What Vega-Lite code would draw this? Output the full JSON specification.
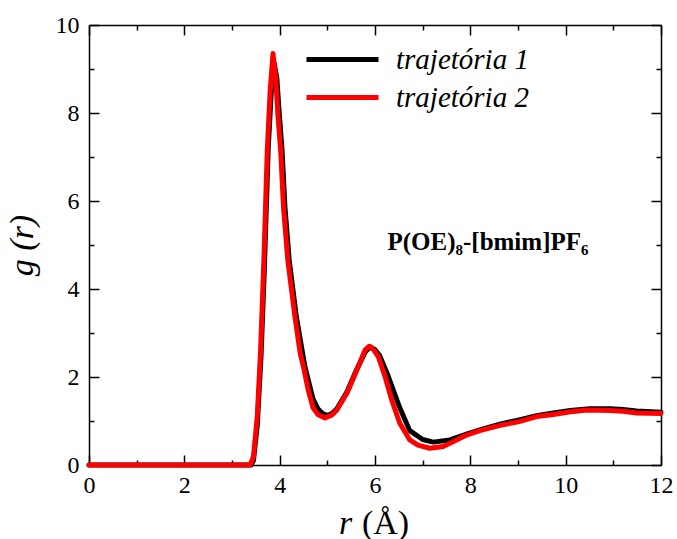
{
  "$schema": "https://vega.github.io/schema/vega-lite/v6.json",
  "width": 572,
  "height": 440,
  "autosize": {"type": "none"},
  "padding": {"left": 89, "top": 25, "right": 16, "bottom": 74},
  "background": "white",
  "config": {
    "view": {"stroke": null},
    "font": "Liberation Serif",
    "axis": {
      "domainColor": "black",
      "domainWidth": 1.5,
      "tickColor": "black",
      "tickWidth": 1.5,
      "labelFont": "Liberation Serif",
      "labelFontSize": 24,
      "labelColor": "black",
      "labelFlush": false,
      "titleFont": "Liberation Serif",
      "titleFontSize": 34,
      "titleFontStyle": "italic",
      "titleFontWeight": "normal",
      "titleColor": "black",
      "grid": false
    }
  },
  "datasets": {
    "gr": [
      {"r": 0, "g": 0, "s": "trajetória 1"},
      {"r": 3.4, "g": 0, "s": "trajetória 1"},
      {"r": 3.45, "g": 0.1, "s": "trajetória 1"},
      {"r": 3.53, "g": 0.9, "s": "trajetória 1"},
      {"r": 3.61, "g": 2.5, "s": "trajetória 1"},
      {"r": 3.68, "g": 4.5, "s": "trajetória 1"},
      {"r": 3.76, "g": 7.2, "s": "trajetória 1"},
      {"r": 3.83, "g": 8.6, "s": "trajetória 1"},
      {"r": 3.88, "g": 9.15, "s": "trajetória 1"},
      {"r": 3.94, "g": 8.8, "s": "trajetória 1"},
      {"r": 3.99, "g": 8.0, "s": "trajetória 1"},
      {"r": 4.05, "g": 7.16, "s": "trajetória 1"},
      {"r": 4.11, "g": 5.87, "s": "trajetória 1"},
      {"r": 4.2, "g": 4.66, "s": "trajetória 1"},
      {"r": 4.35, "g": 3.37, "s": "trajetória 1"},
      {"r": 4.53, "g": 2.23, "s": "trajetória 1"},
      {"r": 4.7, "g": 1.5, "s": "trajetória 1"},
      {"r": 4.8, "g": 1.28, "s": "trajetória 1"},
      {"r": 4.9, "g": 1.17, "s": "trajetória 1"},
      {"r": 5.0, "g": 1.13, "s": "trajetória 1"},
      {"r": 5.1, "g": 1.17, "s": "trajetória 1"},
      {"r": 5.2, "g": 1.28, "s": "trajetória 1"},
      {"r": 5.41, "g": 1.66, "s": "trajetória 1"},
      {"r": 5.62, "g": 2.18, "s": "trajetória 1"},
      {"r": 5.8, "g": 2.58, "s": "trajetória 1"},
      {"r": 5.9, "g": 2.68, "s": "trajetória 1"},
      {"r": 6.0, "g": 2.62, "s": "trajetória 1"},
      {"r": 6.1, "g": 2.48, "s": "trajetória 1"},
      {"r": 6.28, "g": 2.01, "s": "trajetória 1"},
      {"r": 6.4, "g": 1.65, "s": "trajetória 1"},
      {"r": 6.52, "g": 1.3, "s": "trajetória 1"},
      {"r": 6.73, "g": 0.78, "s": "trajetória 1"},
      {"r": 7.0, "g": 0.58, "s": "trajetória 1"},
      {"r": 7.22, "g": 0.52, "s": "trajetória 1"},
      {"r": 7.57, "g": 0.57, "s": "trajetória 1"},
      {"r": 7.92, "g": 0.7, "s": "trajetória 1"},
      {"r": 8.2, "g": 0.8, "s": "trajetória 1"},
      {"r": 8.62, "g": 0.93, "s": "trajetória 1"},
      {"r": 9.0, "g": 1.02, "s": "trajetória 1"},
      {"r": 9.39, "g": 1.12, "s": "trajetória 1"},
      {"r": 9.74, "g": 1.18, "s": "trajetória 1"},
      {"r": 10.1, "g": 1.24, "s": "trajetória 1"},
      {"r": 10.5, "g": 1.28, "s": "trajetória 1"},
      {"r": 10.93, "g": 1.28, "s": "trajetória 1"},
      {"r": 11.2, "g": 1.26, "s": "trajetória 1"},
      {"r": 11.49, "g": 1.23, "s": "trajetória 1"},
      {"r": 12, "g": 1.2, "s": "trajetória 1"},
      {"r": 0, "g": 0, "s": "trajetória 2"},
      {"r": 3.38, "g": 0, "s": "trajetória 2"},
      {"r": 3.45, "g": 0.19, "s": "trajetória 2"},
      {"r": 3.53, "g": 1.1, "s": "trajetória 2"},
      {"r": 3.6, "g": 2.61, "s": "trajetória 2"},
      {"r": 3.67, "g": 4.7, "s": "trajetória 2"},
      {"r": 3.74, "g": 7.16, "s": "trajetória 2"},
      {"r": 3.8, "g": 8.5, "s": "trajetória 2"},
      {"r": 3.86, "g": 9.35, "s": "trajetória 2"},
      {"r": 3.92, "g": 8.75, "s": "trajetória 2"},
      {"r": 3.96, "g": 8.0, "s": "trajetória 2"},
      {"r": 4.02, "g": 7.16, "s": "trajetória 2"},
      {"r": 4.08, "g": 5.87, "s": "trajetória 2"},
      {"r": 4.17, "g": 4.66, "s": "trajetória 2"},
      {"r": 4.32, "g": 3.37, "s": "trajetória 2"},
      {"r": 4.43, "g": 2.54, "s": "trajetória 2"},
      {"r": 4.5, "g": 2.23, "s": "trajetória 2"},
      {"r": 4.6, "g": 1.7, "s": "trajetória 2"},
      {"r": 4.7, "g": 1.3, "s": "trajetória 2"},
      {"r": 4.8, "g": 1.15, "s": "trajetória 2"},
      {"r": 4.95, "g": 1.07, "s": "trajetória 2"},
      {"r": 5.1, "g": 1.14, "s": "trajetória 2"},
      {"r": 5.2, "g": 1.25, "s": "trajetória 2"},
      {"r": 5.41, "g": 1.63, "s": "trajetória 2"},
      {"r": 5.62, "g": 2.16, "s": "trajetória 2"},
      {"r": 5.79, "g": 2.61, "s": "trajetória 2"},
      {"r": 5.88, "g": 2.7, "s": "trajetória 2"},
      {"r": 5.95, "g": 2.65, "s": "trajetória 2"},
      {"r": 6.07, "g": 2.46, "s": "trajetória 2"},
      {"r": 6.21, "g": 2.01, "s": "trajetória 2"},
      {"r": 6.35, "g": 1.48, "s": "trajetória 2"},
      {"r": 6.52, "g": 0.95, "s": "trajetória 2"},
      {"r": 6.73, "g": 0.57, "s": "trajetória 2"},
      {"r": 6.9, "g": 0.45, "s": "trajetória 2"},
      {"r": 7.15, "g": 0.38, "s": "trajetória 2"},
      {"r": 7.43, "g": 0.42, "s": "trajetória 2"},
      {"r": 7.7, "g": 0.56, "s": "trajetória 2"},
      {"r": 7.92, "g": 0.68, "s": "trajetória 2"},
      {"r": 8.2, "g": 0.78, "s": "trajetória 2"},
      {"r": 8.62, "g": 0.9, "s": "trajetória 2"},
      {"r": 9.0, "g": 0.98, "s": "trajetória 2"},
      {"r": 9.39, "g": 1.1, "s": "trajetória 2"},
      {"r": 9.74, "g": 1.15, "s": "trajetória 2"},
      {"r": 10.1, "g": 1.21, "s": "trajetória 2"},
      {"r": 10.44, "g": 1.25, "s": "trajetória 2"},
      {"r": 10.93, "g": 1.24, "s": "trajetória 2"},
      {"r": 11.2, "g": 1.22, "s": "trajetória 2"},
      {"r": 11.49, "g": 1.18, "s": "trajetória 2"},
      {"r": 12, "g": 1.17, "s": "trajetória 2"}
    ]
  },
  "layer": [
    {
      "data": {"name": "gr"},
      "mark": {"type": "line", "strokeWidth": 5, "strokeJoin": "round", "strokeCap": "round"},
      "encoding": {
        "x": {
          "field": "r", "type": "quantitative",
          "scale": {"domain": [0, 12], "nice": false},
          "axis": {
            "orient": "bottom",
            "title": "(Å)",
            "titleFontStyle": "normal",
            "titleAlign": "center",
            "titleBaseline": "alphabetic",
            "titleX": 296,
            "titleY": 68,
            "values": [0, 2, 4, 6, 8, 10, 12],
            "tickSize": -10,
            "labelPadding": 18
          }
        },
        "y": {
          "field": "g", "type": "quantitative",
          "scale": {"domain": [0, 10], "nice": false},
          "axis": {
            "orient": "left",
            "title": "g (r)",
            "titlePadding": 16,
            "values": [0, 2, 4, 6, 8, 10],
            "tickSize": -10,
            "labelPadding": 20
          }
        },
        "color": {
          "field": "s", "type": "nominal",
          "scale": {"domain": ["trajetória 1", "trajetória 2"], "range": ["black", "#ff0000"]},
          "legend": {
            "orient": "none",
            "legendX": 215,
            "legendY": 20,
            "title": null,
            "symbolType": "M-1,0H5",
            "symbolSize": 576,
            "symbolStrokeWidth": 5,
            "labelFont": "Liberation Serif",
            "labelFontSize": 29,
            "labelFontStyle": "italic",
            "labelColor": "black",
            "labelOffset": 63,
            "rowPadding": 8
          }
        }
      }
    },
    {
      "data": {"name": "gr"},
      "mark": {"type": "line", "opacity": 0},
      "encoding": {
        "x": {
          "field": "r", "type": "quantitative",
          "axis": {"orient": "bottom", "title": "r", "titleAlign": "center", "titleBaseline": "alphabetic", "titleX": 256, "titleY": 68, "labels": false, "domain": false, "values": [1, 3, 5, 7, 9, 11], "tickSize": -5}
        },
        "y": {
          "field": "g", "type": "quantitative",
          "axis": {"orient": "left", "title": null, "labels": false, "domain": false, "values": [1, 3, 5, 7, 9], "tickSize": -5}
        },
        "detail": {"field": "s"}
      }
    },
    {
      "data": {"name": "gr"},
      "mark": {"type": "line", "opacity": 0},
      "encoding": {
        "x": {
          "field": "r", "type": "quantitative",
          "axis": {"orient": "top", "title": null, "labels": false, "values": [0, 2, 4, 6, 8, 10, 12], "tickSize": -10}
        },
        "y": {
          "field": "g", "type": "quantitative",
          "axis": {"orient": "right", "title": null, "labels": false, "values": [0, 2, 4, 6, 8, 10], "tickSize": -10}
        },
        "detail": {"field": "s"}
      }
    },
    {
      "data": {"name": "gr"},
      "mark": {"type": "line", "opacity": 0},
      "encoding": {
        "x": {
          "field": "r", "type": "quantitative",
          "axis": {"orient": "top", "title": null, "labels": false, "domain": false, "values": [1, 3, 5, 7, 9, 11], "tickSize": -5}
        },
        "y": {
          "field": "g", "type": "quantitative",
          "axis": {"orient": "right", "title": null, "labels": false, "domain": false, "values": [1, 3, 5, 7, 9], "tickSize": -5}
        },
        "detail": {"field": "s"}
      }
    },
    {
      "data": {"values": [{"label": "P(OE)₈-[bmim]PF₆"}]},
      "mark": {"type": "text", "font": "Liberation Serif", "fontWeight": "bold", "fontSize": 25, "color": "black", "align": "center", "baseline": "middle"},
      "encoding": {
        "x": {"datum": 8.37, "type": "quantitative", "axis": null},
        "y": {"datum": 5.07, "type": "quantitative", "axis": null},
        "text": {"field": "label"}
      }
    }
  ],
  "resolve": {"axis": {"x": "independent", "y": "independent"}}
}
